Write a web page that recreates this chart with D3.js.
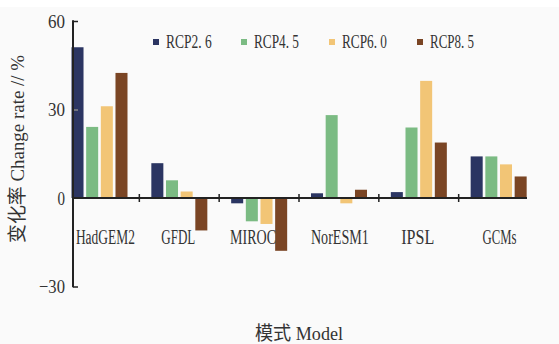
<!DOCTYPE html>
<html><head><meta charset="utf-8">
<script src="https://cdn.jsdelivr.net/npm/d3@7/dist/d3.min.js"></script>
<style>body{margin:0;background:#fff}svg{display:block}</style>
</head><body><svg id="c" width="559" height="344"></svg>
<script>
const categories = ["HadGEM2","GFDL","MIROC","NorESM1","IPSL","GCMs"];
const seriesNames = ["RCP2. 6","RCP4. 5","RCP6. 0","RCP8. 5"];
const rcp26 = [51.1, 11.8, -1.8, 1.6, 2.0, 14.1];
const rcp45 = [24.1, 6.0, -7.9, 28.1, 23.9, 14.1];
const rcp60 = [31.1, 2.2, -8.8, -1.8, 39.7, 11.4];
const rcp85 = [42.4, -11.0, -17.9, 2.8, 18.8, 7.3];
const yTicks = [-30, 0, 30, 60];
const colors = ["#2b3562","#7bbb83","#f2c576","#7a4524"];
const series = [rcp26, rcp45, rcp60, rcp85];

const svg = d3.select("#c");
svg.append("rect").attr("x",0).attr("y",7).attr("width",559).attr("height",337).attr("fill","#fafafa");
const font = "'Liberation Serif','Noto Sans CJK SC',serif";
const ink = "#333";

const y = d3.scaleLinear().domain([-30,60]).range([286.5,21]);
const x = d3.scaleBand().domain(categories).range([59.5,538.5]).paddingInner(0).paddingOuter(0);
const inner = d3.scaleBand().domain(d3.range(4)).range([12,68]).paddingInner(0.18);
const axX = 73;

// bars
series.forEach((vals,si)=>{
  svg.append("g").selectAll("rect").data(vals).join("rect")
    .attr("x",(d,i)=>x(categories[i])+inner(si))
    .attr("width",inner.bandwidth())
    .attr("y",d=>y(Math.max(0,d)))
    .attr("height",d=>Math.abs(y(d)-y(0)))
    .attr("fill",colors[si]);
});

// y axis
const ya = svg.append("g").attr("transform",`translate(${axX},0)`)
  .call(d3.axisRight(y).tickValues(yTicks).tickSize(5).tickFormat(""));
ya.select(".domain").remove();
ya.selectAll("line").attr("stroke","#222").attr("stroke-width",1.5);
ya.selectAll(".tick").filter(d=>d===30).select("line").attr("stroke","#888");
ya.selectAll(".tick").filter(d=>d===0).remove();
svg.append("line").attr("x1",axX).attr("x2",axX).attr("y1",y(60)-0.7).attr("y2",y(-30)+0.7)
  .attr("stroke","#222").attr("stroke-width",2);
const tickW = {"60":17,"30":17,"0":7.5,"-30":26};
svg.append("g").selectAll("text").data(yTicks).join("text")
  .attr("x",axX-8).attr("y",d=>y(d)).attr("dy","0.35em").attr("text-anchor","end")
  .attr("font-family",font).attr("font-size",19).attr("fill",ink)
  .attr("textLength",d=>tickW[String(d)]).attr("lengthAdjust","spacingAndGlyphs")
  .text(d=>d<0?"\u2212"+Math.abs(d):d);

// x axis
svg.append("line").attr("x1",axX).attr("x2",527).attr("y1",y(0)).attr("y2",y(0))
  .attr("stroke","#222").attr("stroke-width",2);
svg.append("g").selectAll("line").data(categories.slice(1)).join("line")
  .attr("x1",d=>x(d)).attr("x2",d=>x(d)).attr("y1",y(0)-4).attr("y2",y(0)+4)
  .attr("stroke","#222").attr("stroke-width",1.5);
const catW = {HadGEM2:59,GFDL:34,MIROC:46,NorESM1:58,IPSL:33,GCMs:34};
const catShift = {HadGEM2:6,GFDL:-1,MIROC:-6,NorESM1:1,IPSL:-1,GCMs:1};
svg.append("g").selectAll("text").data(categories).join("text")
  .attr("x",d=>x(d)+x.bandwidth()/2+catShift[d]-catW[d]/2).attr("y",243.5)
  .attr("font-family",font).attr("font-size",20).attr("fill",ink)
  .attr("textLength",d=>catW[d]).attr("lengthAdjust","spacingAndGlyphs")
  .text(d=>d);

// axis titles
svg.append("text").attr("transform","translate(24,243) rotate(-90)")
  .attr("font-family",font).attr("font-size",19).attr("fill",ink)
  .attr("textLength",188).attr("lengthAdjust","spacingAndGlyphs")
  .text("变化率 Change rate // %");
svg.append("text").attr("x",255).attr("y",340)
  .attr("font-family",font).attr("font-size",19).attr("fill",ink)
  .attr("textLength",88).attr("lengthAdjust","spacingAndGlyphs")
  .text("模式 Model");

// legend
const legW = [45.7,45,45,44];
const lg = svg.append("g").selectAll("g").data(seriesNames).join("g")
  .attr("transform",(d,i)=>`translate(${153+i*88},42)`);
lg.append("rect").attr("x",0).attr("y",-3).attr("width",6).attr("height",6).attr("fill",(d,i)=>colors[i]);
lg.append("text").attr("x",13).attr("y",0).attr("dy","0.35em").attr("font-family",font)
  .attr("font-size",18).attr("fill",ink)
  .attr("textLength",(d,i)=>legW[i]).attr("lengthAdjust","spacingAndGlyphs").text(d=>d);
</script></body></html>
